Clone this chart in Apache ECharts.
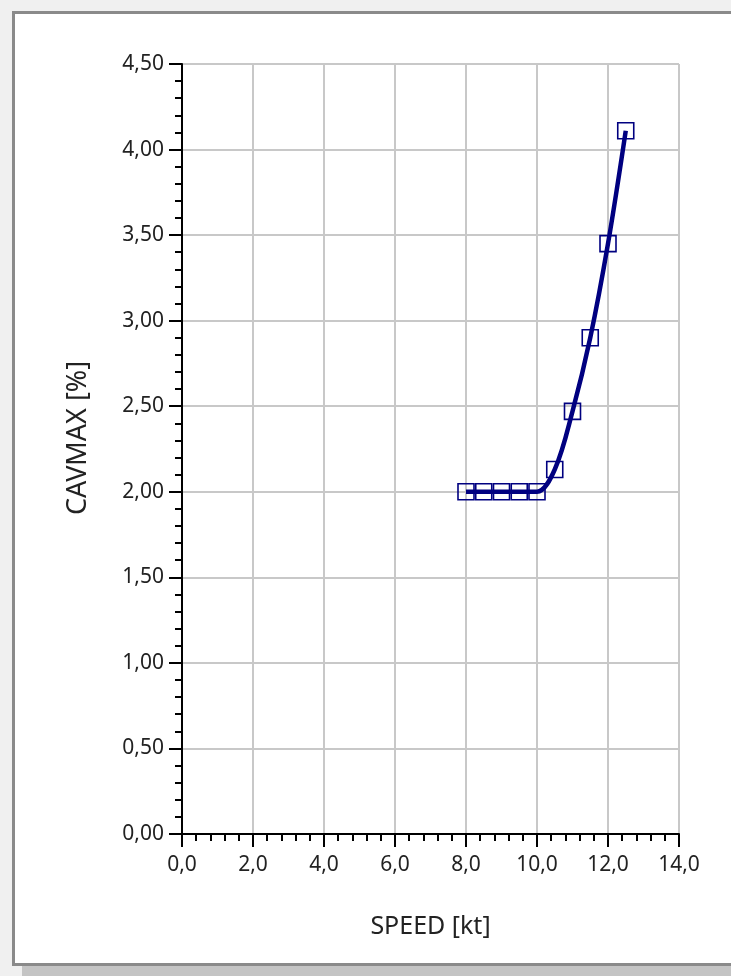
<!DOCTYPE html>
<html>
<head>
<meta charset="utf-8">
<script src="https://cdn.jsdelivr.net/npm/echarts@6/dist/echarts.min.js"></script>
<style>
  html, body { margin: 0; padding: 0; background: #f0f0f0; width: 731px; height: 976px; overflow: hidden; }
  #frame { position: absolute; left: 12px; top: 11px; width: 719px; height: 949px; background: #ffffff;
           border-left: 3px solid #8a8a8a; border-top: 3px solid #8a8a8a; border-bottom: 3px solid #8a8a8a; box-sizing: content-box; }
  #shadow { position: absolute; left: 22px; top: 966px; width: 709px; height: 10px; background: #c4c4c4; }
  #chart { position: absolute; left: 0; top: 0; width: 731px; height: 976px; }
</style>
</head>
<body>
<div id="frame"></div>
<div id="shadow"></div>
<div id="chart"></div>
<script>
// Data
const speeds = [8.0, 8.5, 9.0, 9.5, 10.0, 10.5, 11.0, 11.5, 12.0, 12.5];
const cavmax = [2.00, 2.00, 2.00, 2.00, 2.00, 2.13, 2.47, 2.90, 3.45, 4.11];
const xName = 'SPEED [kt]';
const yName = 'CAVMAX [%]';

const chart = echarts.init(document.getElementById('chart'), null, { renderer: 'canvas' });
const fontFamily = '"Noto Sans", "Open Sans", sans-serif';
const labelColor = '#222';

chart.setOption({
  backgroundColor: 'transparent',
  animation: false,
  grid: { left: 182, right: 52, top: 64, bottom: 142, containLabel: false },
  xAxis: {
    type: 'value', min: 0, max: 14, interval: 2,
    name: xName, nameLocation: 'middle', nameGap: 80,
    nameTextStyle: { fontFamily, fontSize: 25, color: labelColor },
    axisLine: { show: true, onZero: false, lineStyle: { color: '#000', width: 2 } },
    axisTick: { show: true, length: 13, lineStyle: { color: '#000', width: 2 } },
    minorTick: { show: true, splitNumber: 5, length: 7, lineStyle: { color: '#000', width: 2 } },
    axisLabel: { fontFamily, fontSize: 21, color: labelColor, margin: 21,
      formatter: v => v.toFixed(1).replace('.', ',') },
    splitLine: { show: true, lineStyle: { color: '#c8c8c8', width: 2 } }
  },
  yAxis: {
    type: 'value', min: 0, max: 4.5, interval: 0.5,
    name: yName, nameLocation: 'middle', nameGap: 90, nameRotate: 90,
    nameTextStyle: { fontFamily, fontSize: 27, color: labelColor, padding: [0, 0, 0, 22] },
    axisLine: { show: true, onZero: false, lineStyle: { color: '#000', width: 2 } },
    axisTick: { show: true, length: 13, lineStyle: { color: '#000', width: 2 } },
    minorTick: { show: true, splitNumber: 5, length: 7, lineStyle: { color: '#000', width: 2 } },
    axisLabel: { fontFamily, fontSize: 21, color: labelColor, margin: 18,
      formatter: v => v.toFixed(2).replace('.', ',') },
    splitLine: { show: true, lineStyle: { color: '#c8c8c8', width: 2 } }
  },
  series: [{
    type: 'line',
    data: speeds.map((s, i) => [s, cavmax[i]]),
    smooth: 0.35,
    symbol: 'rect',
    symbolSize: 16,
    showAllSymbol: true,
    lineStyle: { color: '#000080', width: 4.5 },
    itemStyle: { color: 'rgba(0,0,0,0)', borderColor: '#000080', borderWidth: 1.6 },
    z: 3
  }]
});
</script>
</body>
</html>
